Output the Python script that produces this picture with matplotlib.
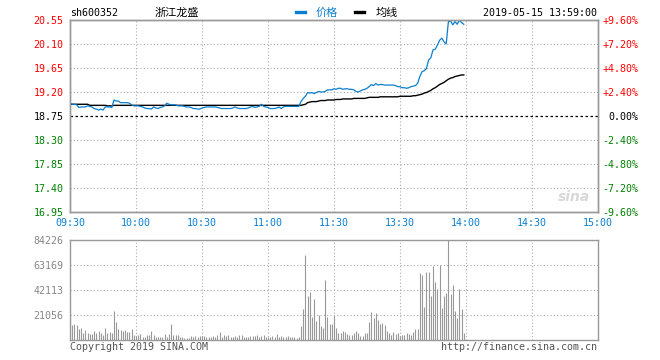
#!/usr/bin/env python
"""Intraday price / volume chart for sh600352 (2019-05-15)."""
import matplotlib
matplotlib.use("Agg")
import matplotlib.pyplot as plt
import numpy as np

PREV_CLOSE = 18.75
PRICE_TICKS = [20.55, 20.10, 19.65, 19.20, 18.75, 18.30, 17.85, 17.40, 16.95]
PCT_LABELS = ["+9.60%", "+7.20%", "+4.80%", "+2.40%", "0.00%",
              "-2.40%", "-4.80%", "-7.20%", "-9.60%"]
TIME_LABELS = ["09:30", "10:00", "10:30", "11:00", "11:30",
               "13:30", "14:00", "14:30", "15:00"]
VOL_TICKS = [21056, 42113, 63169, 84226]

# minute prices, 09:30 .. 13:59
price = [
    18.99, 18.97, 18.97, 18.96, 18.91, 18.92, 18.92, 18.92, 18.94, 18.93,
    18.92, 18.89, 18.88, 18.86, 18.88, 18.86, 18.92, 18.92, 18.92, 18.91,
    19.05, 19.03, 19.03, 19.00, 19.00, 19.00, 19.00, 18.99, 18.96, 18.94,
    18.94, 18.94, 18.93, 18.92, 18.90, 18.89, 18.89, 18.88, 18.92, 18.90,
    18.89, 18.91, 18.92, 18.94, 18.99, 18.97, 18.96, 18.96, 18.96, 18.94,
    18.94, 18.94, 18.93, 18.92, 18.92, 18.91, 18.89, 18.89, 18.88, 18.88,
    18.90, 18.91, 18.92, 18.92, 18.92, 18.92, 18.92, 18.91, 18.90, 18.89,
    18.89, 18.89, 18.89, 18.89, 18.90, 18.92, 18.90, 18.89, 18.89, 18.89,
    18.89, 18.90, 18.92, 18.93, 18.91, 18.92, 18.93, 18.97, 18.93, 18.92,
    18.91, 18.89, 18.89, 18.89, 18.90, 18.92, 18.89, 18.92, 18.93, 18.93,
    18.93, 18.93, 18.93, 18.93, 18.93, 19.02, 19.08, 19.12, 19.19, 19.18,
    19.19, 19.17, 19.19, 19.21, 19.20, 19.20, 19.21, 19.24, 19.24, 19.24,
    19.26,
    19.25, 19.27, 19.27, 19.25, 19.26, 19.26, 19.25, 19.25, 19.24, 19.21,
    19.20, 19.22, 19.24, 19.25, 19.27, 19.30, 19.34, 19.32, 19.36, 19.33,
    19.34, 19.34, 19.33, 19.33, 19.33, 19.33, 19.33, 19.32, 19.30, 19.30,
    19.28, 19.28, 19.27, 19.28, 19.30, 19.31, 19.32, 19.36, 19.49, 19.58,
    19.60, 19.64, 19.80, 19.84, 19.99, 20.00, 20.08, 20.17, 20.21, 20.14,
    20.10, 20.52, 20.53, 20.46, 20.52, 20.47, 20.55, 20.50, 20.47,
]

# average price line
avg = [
    18.97, 18.97, 18.97, 18.97, 18.97, 18.97, 18.97, 18.97, 18.97, 18.95,
    18.95, 18.95, 18.95, 18.95, 18.95, 18.95, 18.95, 18.94, 18.94, 18.94,
    18.95, 18.95, 18.95, 18.95, 18.95, 18.95, 18.95, 18.95, 18.95, 18.95,
    18.95, 18.95, 18.95, 18.95, 18.95, 18.95, 18.95, 18.95, 18.95, 18.95,
    18.95, 18.95, 18.95, 18.95, 18.95, 18.95, 18.95, 18.95, 18.95, 18.95,
    18.95, 18.95, 18.95, 18.95, 18.95, 18.95, 18.95, 18.95, 18.95, 18.95,
    18.95, 18.95, 18.95, 18.95, 18.95, 18.95, 18.95, 18.95, 18.95, 18.95,
    18.95, 18.95, 18.95, 18.95, 18.95, 18.95, 18.95, 18.95, 18.95, 18.95,
    18.95, 18.95, 18.95, 18.95, 18.95, 18.95, 18.95, 18.95, 18.95, 18.95,
    18.95, 18.95, 18.95, 18.95, 18.95, 18.95, 18.95, 18.95, 18.95, 18.95,
    18.95, 18.95, 18.95, 18.95, 18.95, 18.95, 18.96, 18.97, 19.00, 19.01,
    19.02, 19.02, 19.02, 19.03, 19.04, 19.04, 19.04, 19.05, 19.05, 19.05,
    19.05,
    19.06, 19.06, 19.06, 19.07, 19.07, 19.07, 19.07, 19.07, 19.08, 19.08,
    19.08, 19.08, 19.08, 19.08, 19.09, 19.10, 19.10, 19.10, 19.10, 19.10,
    19.11, 19.11, 19.11, 19.11, 19.11, 19.11, 19.11, 19.11, 19.11, 19.12,
    19.12, 19.12, 19.12, 19.12, 19.12, 19.13, 19.13, 19.14, 19.15, 19.16,
    19.18, 19.19, 19.21, 19.23, 19.26, 19.28, 19.31, 19.34, 19.36, 19.38,
    19.41, 19.44, 19.46, 19.47, 19.49, 19.50, 19.51, 19.52, 19.52,
]

# minute volume (lots)
volume = [
    29500, 12600, 13500, 12400, 9000, 9800, 5900, 8100, 5900, 5000,
    5000, 7600, 5900, 7300, 5900, 4200, 10100, 5900, 6700, 5900,
    24400, 15200, 9300, 8400, 7600, 8400, 6700, 6700, 9300, 4200,
    3400, 4200, 5000, 2500, 2500, 4200, 4200, 7600, 4200, 2500,
    2500, 2500, 2500, 5000, 2500, 5000, 13500, 4200, 4200, 4200,
    2500, 2500, 1700, 1700, 1700, 3400, 2500, 3400, 2500, 3400,
    3400, 3400, 2500, 2500, 2500, 3400, 2500, 4200, 6700, 2500,
    4200, 3400, 4200, 2500, 2500, 3400, 2500, 4200, 4200, 2500,
    2500, 2500, 3400, 3400, 3400, 4200, 2500, 3400, 4200, 2500,
    2500, 2500, 3400, 2500, 5000, 2500, 3400, 2500, 2500, 3400,
    2500, 2500, 2500, 1700, 2500, 11800, 26000, 72000, 37000, 40400,
    19600, 34800, 16000, 21000, 11800, 10400, 50500, 19400, 13800, 13800,
    20000,
    10000, 5900, 5900, 7600, 6700, 5000, 4200, 4200, 5900, 7600,
    5900, 3400, 3400, 5900, 5900, 15200, 23600, 18500, 22700, 16800,
    13500, 14300, 12600, 7600, 5900, 4200, 6700, 5000, 5900, 3400,
    4200, 4200, 5900, 5000, 4200, 6700, 9300, 9300, 56400, 54700,
    27800, 57300, 57300, 37000, 62600, 48800, 43000, 63200, 27000, 37000,
    39600, 84226, 38700, 46300, 24400, 18500, 43000, 26000, 5900,
]

BLUE = "#0a7fcf"
RED = "#ff0000"
GREEN = "#008000"
GREY = "#999999"
MONO = "DejaVu Sans Mono"
CJK = ["Noto Sans CJK SC", "DejaVu Sans"]


def label_color(p):
    if p > PREV_CLOSE + 1e-9:
        return RED
    if p < PREV_CLOSE - 1e-9:
        return GREEN
    return "black"


def main():
    fig = plt.figure(figsize=(6.6, 3.6), dpi=100)
    W, H = 660.0, 360.0
    ax = fig.add_axes([70 / W, 1 - 212 / H, 528 / W, 192 / H])
    axv = fig.add_axes([70 / W, 1 - 340 / H, 528 / W, 100 / H])

    x = np.arange(len(price))
    xgrid = np.arange(0, 241, 30)

    # ---- price panel
    ax.set_xlim(0, 240)
    ax.set_ylim(PRICE_TICKS[-1], PRICE_TICKS[0])
    for g in xgrid[1:-1]:
        ax.axvline(g, color="#aaaaaa", lw=0.8, ls=(0, (1, 2)), zorder=1)
    for p in PRICE_TICKS[1:-1]:
        if abs(p - PREV_CLOSE) < 1e-9:
            ax.axhline(p, color="black", lw=0.9, ls=(0, (2, 2)), zorder=1)
        else:
            ax.axhline(p, color="#aaaaaa", lw=0.8, ls=(0, (1, 2)), zorder=1)
    ax.plot(x, avg, color="black", lw=1.0, zorder=3)
    ax.plot(x, price, color=BLUE, lw=0.9, zorder=4)

    ax.set_yticks(PRICE_TICKS)
    ax.set_yticklabels(["%.2f" % p for p in PRICE_TICKS], family=MONO,
                       fontsize=7.2)
    for t, p in zip(ax.get_yticklabels(), PRICE_TICKS):
        t.set_color(label_color(p))
    ax.set_xticks(xgrid)
    ax.set_xticklabels(TIME_LABELS, family=MONO, fontsize=7.2, color=BLUE)
    ax.tick_params(length=0, pad=4.5)

    ax2 = ax.twinx()
    ax2.set_ylim(ax.get_ylim())
    ax2.set_yticks(PRICE_TICKS)
    ax2.set_yticklabels(PCT_LABELS, family=MONO, fontsize=7.2, ha="right")
    for t, p in zip(ax2.get_yticklabels(), PRICE_TICKS):
        t.set_color(label_color(p))
    ax2.tick_params(length=0, pad=29)
    for a in (ax, ax2):
        for s in a.spines.values():
            s.set_color(GREY)
            s.set_linewidth(1.0)

    # sina watermark
    ax.text(0.985, 0.04, "sina", transform=ax.transAxes, ha="right",
            va="bottom", fontsize=10, fontweight="bold", style="italic",
            color="#d8d8d8", zorder=0)

    # ---- volume panel
    axv.set_xlim(0, 240)
    axv.set_ylim(0, VOL_TICKS[-1])
    for g in xgrid[1:-1]:
        axv.axvline(g, color="#aaaaaa", lw=0.8, ls=(0, (1, 2)), zorder=1)
    for v in VOL_TICKS[:-1]:
        axv.axhline(v, color="#aaaaaa", lw=0.8, ls=(0, (1, 2)), zorder=1)
    axv.vlines(x, 0, volume, color=GREY, lw=0.8, zorder=2)
    axv.set_yticks(VOL_TICKS)
    axv.set_yticklabels([str(v) for v in VOL_TICKS], family=MONO,
                        fontsize=7.2, color="#888888")
    axv.set_xticks([])
    axv.tick_params(length=0, pad=4.5)
    for s in axv.spines.values():
        s.set_color(GREY)
        s.set_linewidth(1.0)

    # ---- header / footer texts
    fig.text(70 / W, 1 - 13 / H, "sh600352", family=MONO, fontsize=7.2,
             va="center", ha="left")
    fig.text(177 / W, 1 - 13 / H, "浙江龙盛", family=CJK, fontsize=8,
             va="center", ha="center")
    fig.add_artist(plt.Line2D([296 / W, 305 / W], [1 - 12 / H] * 2,
                              color=BLUE, lw=2.4))
    fig.text(316 / W, 1 - 13 / H, "价格", family=CJK, fontsize=8,
             va="center", ha="left", color=BLUE)
    fig.add_artist(plt.Line2D([355 / W, 364 / W], [1 - 12 / H] * 2,
                              color="black", lw=2.4))
    fig.text(376 / W, 1 - 13 / H, "均线", family=CJK, fontsize=8,
             va="center", ha="left")
    fig.text(597 / W, 1 - 13 / H, "2019-05-15 13:59:00", family=MONO,
             fontsize=7.2, va="center", ha="right")
    fig.text(70 / W, 1 - 347 / H, "Copyright 2019 SINA.COM", family=MONO,
             fontsize=7.2, va="center", ha="left", color="#555555")
    fig.text(597 / W, 1 - 347 / H, "http://finance.sina.com.cn",
             family=MONO, fontsize=7.2, va="center", ha="right",
             color="#555555")

    fig.savefig("out.png", dpi=100, facecolor="white")


if __name__ == "__main__":
    main()
